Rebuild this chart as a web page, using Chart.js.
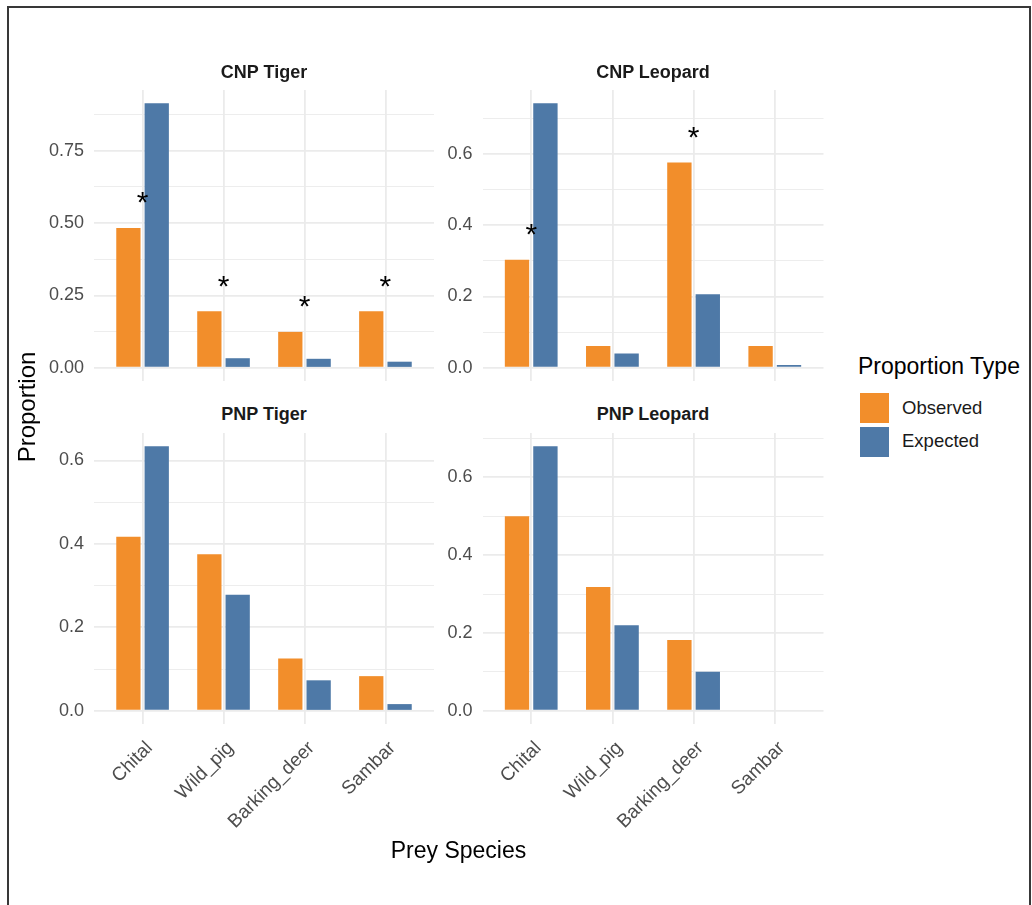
<!DOCTYPE html>
<html><head><meta charset="utf-8">
<script src="https://cdn.jsdelivr.net/npm/chart.js@4.4.0/dist/chart.umd.min.js"></script>
<style>
html,body{margin:0;padding:0;background:#fff;}
body{width:1032px;height:905px;overflow:hidden;position:relative;font-family:'Liberation Sans',Arial,sans-serif;}
.frame{position:absolute;left:7px;top:6px;width:1024px;height:1000px;border:2px solid #383838;box-sizing:border-box;}
canvas{position:absolute;}
.txt{position:absolute;line-height:1;white-space:nowrap;}
.strip{font-weight:bold;font-size:18px;color:#1a1a1a;text-align:center;width:340px;}
.key{position:absolute;width:29px;height:30px;}
</style></head><body>
<div class="frame"></div>
<canvas id="c1"></canvas><canvas id="c2"></canvas><canvas id="c3"></canvas><canvas id="c4"></canvas>
<div class="txt strip" style="left:94px;top:63px;">CNP Tiger</div>
<div class="txt strip" style="left:483px;top:63px;">CNP Leopard</div>
<div class="txt strip" style="left:94px;top:405px;">PNP Tiger</div>
<div class="txt strip" style="left:483px;top:405px;">PNP Leopard</div>
<div class="txt" style="left:0;width:917px;text-align:center;top:839px;font-size:23px;color:#000;">Prey Species</div>
<div class="txt" style="left:-173px;top:395px;width:400px;text-align:center;font-size:24px;color:#000;transform:rotate(-90deg);">Proportion</div>
<div class="txt" style="left:858px;top:355px;font-size:23px;color:#000;">Proportion Type</div>
<div class="key" style="left:860px;top:393px;background:#F28E2B;"></div>
<div class="key" style="left:860px;top:427px;background:#4E79A7;"></div>
<div class="txt" style="left:902px;top:399px;font-size:18.5px;color:#1a1a1a;">Observed</div>
<div class="txt" style="left:902px;top:432px;font-size:18.5px;color:#1a1a1a;">Expected</div>
<script>
// ---- data ----
const categories = ['Chital', 'Wild_pig', 'Barking_deer', 'Sambar'];
const seriesNames = ['Observed', 'Expected'];
const seriesColors = ['#F28E2B', '#4E79A7'];

const cnpTigerObserved = [0.483, 0.195, 0.124, 0.195];
const cnpTigerExpected = [0.914, 0.033, 0.031, 0.021];
const cnpTigerSignificant = [true, true, true, true];

const cnpLeopardObserved = [0.303, 0.061, 0.576, 0.061];
const cnpLeopardExpected = [0.742, 0.040, 0.206, 0.008];
const cnpLeopardSignificant = [true, false, true, false];

const pnpTigerObserved = [0.417, 0.375, 0.125, 0.083];
const pnpTigerExpected = [0.634, 0.278, 0.073, 0.016];
const pnpTigerSignificant = [false, false, false, false];

const pnpLeopardObserved = [0.500, 0.318, 0.182, 0.000];
const pnpLeopardExpected = [0.680, 0.220, 0.100, 0.000];
const pnpLeopardSignificant = [false, false, false, false];

const yTicksQuarter = [0, 0.25, 0.5, 0.75];
const yTickLabelsQuarter = ['0.00', '0.25', '0.50', '0.75'];
const yTicksFifth = [0, 0.2, 0.4, 0.6];
const yTickLabelsFifth = ['0.0', '0.2', '0.4', '0.6'];

// ---- drawing ----
Chart.defaults.font.family = "'Liberation Sans', Arial, sans-serif";

const asteriskPlugin = {
  id: 'asterisks',
  afterDatasetsDraw(chart, args, opts) {
    const ctx = chart.ctx, xs = chart.scales.x, ys = chart.scales.y;
    ctx.save();
    ctx.fillStyle = '#000';
    ctx.font = '30px "Liberation Sans", Arial, sans-serif';
    ctx.textAlign = 'center';
    ctx.textBaseline = 'alphabetic';
    const m = ctx.measureText('*');
    const mid = (m.actualBoundingBoxAscent - m.actualBoundingBoxDescent) / 2;
    opts.sig.forEach((s, i) => {
      if (!s) return;
      const px = xs.getPixelForValue(i);
      const py = ys.getPixelForValue(opts.obs[i]) - 30;
      ctx.fillText('*', px, py + mid);
    });
    ctx.restore();
  }
};

function makePanel(id, pos, obs, exp, sig, yTicks, yLabels, showX) {
  const el = document.getElementById(id);
  el.width = pos.w; el.height = pos.h;
  el.style.left = pos.left + 'px'; el.style.top = pos.top + 'px';
  el.style.width = pos.w + 'px'; el.style.height = pos.h + 'px';
  const dataMax = Math.max(...obs, ...exp);
  const yMin = -0.05 * dataMax, yMax = 1.05 * dataMax;
  const step = yTicks[1] - yTicks[0];
  const gridVals = [];
  for (let k = 0; k * step / 2 <= yMax + 1e-9; k++) gridVals.push(+(k * step / 2).toFixed(5));
  const isMajor = v => yTicks.some(t => Math.abs(t - v) < 1e-6);
  const n = categories.length;
  const areaL = pos.areaL - pos.left, areaT = pos.areaT - pos.top;
  const areaR = pos.areaR - pos.left, areaB = pos.areaB - pos.top;

  new Chart(el, {
    type: 'bar',
    data: {
      datasets: [
        { label: seriesNames[0], data: obs.map((v, i) => ({ x: i, y: v })), backgroundColor: seriesColors[0], borderWidth: 0 },
        { label: seriesNames[1], data: exp.map((v, i) => ({ x: i, y: v })), backgroundColor: seriesColors[1], borderWidth: 0 }
      ]
    },
    options: {
      responsive: false,
      animation: false,
      devicePixelRatio: 1,
      categoryPercentage: 0.7,
      barPercentage: 0.857,
      layout: { padding: { top: areaT, right: pos.w - areaR, left: 0, bottom: 0 } },
      plugins: { legend: { display: false }, tooltip: { enabled: false }, asterisks: { sig: sig, obs: obs } },
      scales: {
        x: {
          type: 'linear',
          offset: false,
          min: -0.6, max: n - 1 + 0.6,
          afterBuildTicks: s => { s.ticks = categories.map((c, i) => ({ value: i })); },
          afterFit: s => { s.height = pos.h - areaB; s.paddingLeft = 0; s.paddingRight = 0; },
          grid: { color: '#EBEBEB', lineWidth: 1.8, drawTicks: false, offset: false },
          border: { display: false },
          ticks: {
            display: showX,
            autoSkip: false,
            minRotation: 45, maxRotation: 45,
            padding: 13,
            labelOffset: 7,
            color: '#4D4D4D',
            font: { size: 19 },
            callback: v => categories[v]
          }
        },
        y: {
          type: 'linear',
          min: yMin, max: yMax,
          afterBuildTicks: s => { s.ticks = gridVals.map(v => ({ value: v })); },
          afterFit: s => { s.width = areaL; s.paddingTop = 0; s.paddingBottom = 0; },
          grid: {
            color: '#EBEBEB',
            lineWidth: c => (c.tick && isMajor(c.tick.value)) ? 1.8 : 0.9,
            drawTicks: false
          },
          border: { display: false },
          ticks: {
            padding: 10,
            color: '#4D4D4D',
            font: { size: 18 },
            callback: v => { const k = yTicks.findIndex(t => Math.abs(t - v) < 1e-6); return k >= 0 ? yLabels[k] : ''; }
          }
        }
      }
    },
    plugins: [asteriskPlugin]
  });
}

makePanel('c1', { left: 0, top: 80, w: 440, h: 310, areaL: 94, areaT: 90, areaR: 434, areaB: 381 },
  cnpTigerObserved, cnpTigerExpected, cnpTigerSignificant, yTicksQuarter, yTickLabelsQuarter, false);
makePanel('c2', { left: 440, top: 80, w: 390, h: 310, areaL: 482.5, areaT: 90, areaR: 823.5, areaB: 381 },
  cnpLeopardObserved, cnpLeopardExpected, cnpLeopardSignificant, yTicksFifth, yTickLabelsFifth, false);
makePanel('c3', { left: 0, top: 425, w: 440, h: 480, areaL: 94, areaT: 433, areaR: 434, areaB: 724 },
  pnpTigerObserved, pnpTigerExpected, pnpTigerSignificant, yTicksFifth, yTickLabelsFifth, true);
makePanel('c4', { left: 440, top: 425, w: 390, h: 480, areaL: 482.5, areaT: 433, areaR: 823.5, areaB: 724 },
  pnpLeopardObserved, pnpLeopardExpected, pnpLeopardSignificant, yTicksFifth, yTickLabelsFifth, true);
</script>
</body></html>
